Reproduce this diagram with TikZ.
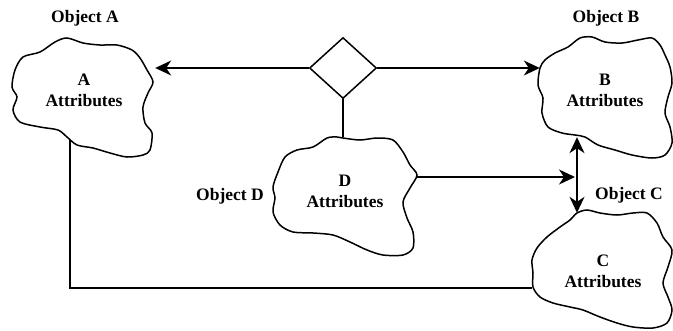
\documentclass[tikz,border=0pt]{standalone}
\usepackage{fontspec}
\setmainfont{Liberation Serif}
\usetikzlibrary{positioning, arrows.meta, shapes.geometric, backgrounds}

\begin{document}
\begin{tikzpicture}[
  x=1pt, y=-1pt,
  cloud/.style={inner sep=0pt},
  txt/.style={font=\fontsize{17.5}{21}\selectfont\bfseries, align=center, inner sep=0pt},
  line/.style={line width=1.5pt},
  blob/.style={draw, fill=white, line width=1.5pt},
  arr/.style={line, -{Stealth[length=16pt, width=15pt, inset=5pt]}},
  darr/.style={line, {Stealth[length=16pt, width=15pt, inset=5pt]}-{Stealth[length=16pt, width=15pt, inset=5pt]}}
]
\useasboundingbox (0,0) rectangle (673,330);

% Clouds (outline boxes)
\node[cloud, minimum width=144pt, minimum height=119pt] (ca) at (83,97.5) {};
\node[cloud, minimum width=132pt, minimum height=121pt] (cb) at (606,97.5) {};
\node[cloud, minimum width=144pt, minimum height=118pt] (cd) at (345,196) {};
\node[cloud, minimum width=140pt, minimum height=118pt] (cc) at (602,269) {};

% Relationship
\node[draw, diamond, line width=1.5pt, inner sep=0pt,
      minimum width=67pt, minimum height=61pt] (dia) at (343,68) {};

% Texts
\node[txt] (ta) at (84,90) {A\\Attributes};
\node[txt] (tb) at (605,90) {B\\Attributes};
\node[txt] (td) at (345,191) {D\\Attributes};
\node[txt] (tc) at (603,271) {C\\Attributes};

\node[txt] (la) at (85,18) {Object A};
\node[txt] (lb) at (606,18) {Object B};
\node[txt] (ld) at (230,196) {Object D};
\node[txt] (lc) at (629,195) {Object C};

\begin{scope}[on background layer]
% Arrows
\draw[arr] (dia.west) -- (dia.west -| ca.east);
\draw[arr] (dia.east) -- (dia.east -| cb.west);
\draw[line] (dia.south) -- (dia.south |- cd.north);
\coordinate (bbot) at ([xshift=-29pt, yshift=21pt]cb.south);
\coordinate (ctop) at ([xshift=-25pt, yshift=-3pt]cc.north);
\coordinate (dout) at ([yshift=19pt]cd.east);
\draw[darr] (bbot) -- (ctop);
\draw[arr, shorten >=2pt] (dout) -- (dout -| bbot);
\draw[line] ([xshift=-13pt, yshift=22pt]ca.south) |- ([yshift=-19pt]cc.west);

% Cloud outlines
\draw[blob] plot[smooth cycle] coordinates {(23,57) (40,52) (55,42) (67,38)
  (83,43) (100,45) (117,45) (132,50) (140,58) (147,70) (153,82) (148,93)
  (143,107) (145,123) (152,133) (150,150) (143,155) (127,157) (110,153)
  (93,148) (77,145) (67,137) (58,130) (40,127) (20,122) (13,110) (17,97)
  (12,87) (15,70)};
\draw[blob] plot[smooth cycle] coordinates {(540,68) (545,60) (555,53)
  (568,47) (580,38) (592,37) (605,42) (622,43) (638,40) (652,38) (660,45)
  (665,55) (670,67) (672,83) (668,97) (665,113) (670,127) (672,143)
  (665,155) (652,158) (632,155) (615,150) (598,145) (585,137) (575,135)
  (562,133) (548,127) (542,113) (543,98) (538,85)};
\draw[blob] plot[smooth cycle] coordinates {(343,138) (360,140) (377,138)
  (393,140) (403,152) (410,165) (417,175) (410,188) (403,202) (407,218)
  (413,232) (413,248) (403,255) (383,255) (367,250) (350,242) (333,235)
  (313,233) (293,232) (280,225) (273,212) (275,198) (273,187) (278,172)
  (285,157) (297,150) (313,147) (327,138) (337,137)};
\draw[blob] plot[smooth cycle] coordinates {(577,213) (587,210) (600,213)
  (617,215) (633,213) (647,213) (657,223) (663,237) (672,250) (668,267)
  (663,283) (668,297) (672,310) (667,323) (653,328) (633,327) (617,323)
  (600,317) (583,310) (570,307) (553,303) (540,297) (533,287) (533,273)
  (532,260) (537,248) (547,237) (560,227) (570,220)};
\end{scope}

\end{tikzpicture}
\end{document}
